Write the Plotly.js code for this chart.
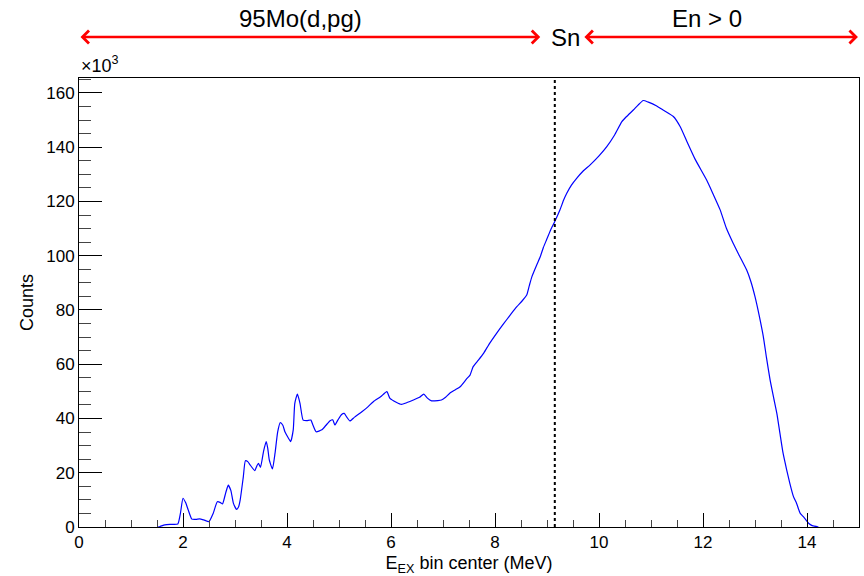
<!DOCTYPE html>
<html>
<head>
<meta charset="utf-8">
<script src="https://cdn.plot.ly/plotly-3.0.1.min.js"></script>
<style>html,body{margin:0;padding:0;background:#fff;}#chart{width:864px;height:576px;}</style>
</head>
<body>
<div id="chart"></div>
<script>
// Excitation energy bin centers (MeV)
const energyMeV = [1.52,1.56,1.65,1.75,1.90,1.95,2.00,2.05,2.10,2.17,2.25,2.32,2.40,2.50,2.58,2.66,2.72,2.76,2.82,2.87,2.92,2.97,3.03,3.07,3.10,3.16,3.20,3.25,3.29,3.38,3.42,3.45,3.49,3.55,3.60,3.63,3.66,3.72,3.77,3.82,3.87,3.92,3.96,4.02,4.07,4.12,4.15,4.20,4.25,4.31,4.38,4.46,4.50,4.56,4.67,4.75,4.83,4.88,4.92,4.98,5.05,5.10,5.15,5.21,5.30,5.44,5.55,5.66,5.80,5.92,5.98,6.10,6.20,6.30,6.43,6.55,6.63,6.70,6.78,6.90,6.97,7.05,7.13,7.23,7.33,7.45,7.52,7.58,7.68,7.78,7.90,8.03,8.12,8.22,8.32,8.42,8.52,8.61,8.66,8.71,8.80,8.87,8.93,8.99,9.07,9.15,9.25,9.32,9.38,9.47,9.57,9.70,9.83,10.00,10.15,10.30,10.44,10.53,10.66,10.75,10.85,10.95,11.11,11.25,11.43,11.56,11.69,11.85,12.07,12.20,12.33,12.45,12.58,12.70,12.84,12.92,13.00,13.08,13.16,13.22,13.29,13.36,13.42,13.48,13.54,13.61,13.67,13.74,13.80,13.87,13.93,14.03,14.10,14.22];
// Counts (in units of 10^3)
const countsK = [0,0.2,0.8,1.0,1.1,5.0,10.6,9.0,6.3,2.9,2.8,3.0,2.6,2.0,5.0,9.3,9.0,8.5,12.5,15.4,13.5,8.7,6.5,7.5,10.0,18.5,24.4,24.0,22.9,20.8,22.5,23.5,22.0,28.0,31.5,29.0,24.7,21.4,27.2,35.0,38.5,37.5,35.1,33.0,31.5,35.8,45.6,49.0,45.6,39.4,39.2,39.4,37.5,35.1,35.8,37.5,39.2,39.5,37.6,39.5,41.5,41.9,40.5,39.1,40.5,42.5,44.2,46.2,48.0,49.9,47.4,46.0,45.2,45.8,46.8,47.8,49.0,47.5,46.5,46.6,46.8,47.8,49.3,50.5,51.7,54.5,56.0,59.1,61.5,64.0,67.8,71.4,73.8,76.3,78.8,81.2,83.3,85.5,89.0,92.3,96.5,99.6,103.0,105.8,109.5,112.6,116.9,120.5,123.0,126.0,128.5,131.3,133.5,136.8,140.2,144.5,149.4,151.3,153.7,155.5,157.2,156.6,155.2,153.5,151.3,147.6,142.1,135.5,127.9,122.5,116.9,110.1,104.6,100.0,94.7,90.5,84.9,78.0,70.2,62.5,54.2,47.5,41.9,34.5,27.2,21.0,16.1,11.2,8.7,5.0,3.8,1.4,0.5,0];
// Neutron separation energy (MeV)
const snMeV = 9.15;
const regionLabels = ["95Mo(d,pg)", "Sn", "En > 0"];

const font = "Liberation Sans, Arial, Helvetica, sans-serif";

const trace = {
  x: energyMeV, y: countsK, type: "scatter", mode: "lines",
  line: {color: "#0000ff", width: 1.2, shape: "spline", smoothing: 0.5},
  hoverinfo: "skip", cliponaxis: true
};

const arrowY = 1.0913;   // paper units, above the frame
const labelY = 1.1336;
const layout = {
  width: 864, height: 576,
  margin: {l: 79, r: 5, t: 78, b: 49},
  paper_bgcolor: "#fff", plot_bgcolor: "#fff",
  showlegend: false,
  font: {family: font, color: "#000", size: 17},
  xaxis: {
    range: [0, 15], dtick: 2, tick0: 0,
    ticks: "inside", ticklen: 14, tickcolor: "#000", tickwidth: 1,
    minor: {dtick: 0.5, ticks: "inside", ticklen: 7, tickcolor: "#444"},
    showline: true, linecolor: "#000", linewidth: 1, mirror: true,
    showgrid: false, zeroline: false,
    tickfont: {size: 17, family: font},
    title: {text: "E<sub>EX</sub> bin center (MeV)", font: {size: 18, family: font}, standoff: 6}
  },
  yaxis: {
    range: [0, 165.5], dtick: 20, tick0: 0,
    ticks: "inside", ticklen: 23, tickcolor: "#000", tickwidth: 1,
    minor: {dtick: 5, ticks: "inside", ticklen: 12, tickcolor: "#444"},
    showline: true, linecolor: "#000", linewidth: 1, mirror: true,
    showgrid: false, zeroline: false,
    tickfont: {size: 17, family: font},
    title: {text: "Counts", font: {size: 18, family: font}}
  },
  shapes: [{
    type: "line", xref: "x", yref: "paper", x0: snMeV, x1: snMeV, y0: 0, y1: 1,
    line: {color: "#000", width: 2, dash: "dot"}
  }],
  annotations: [
    {xref: "paper", yref: "paper", x: 0, y: 1.0, xanchor: "left", yanchor: "bottom",
     text: "×10<sup>3</sup>", showarrow: false, font: {size: 18, family: font}},
    {xref: "x", yref: "paper", x: 8.87, y: arrowY, ax: 0, ay: 0, axref: "x", ayref: "pixel",
     text: "", showarrow: true, arrowside: "end+start", arrowhead: 4, startarrowhead: 4,
     arrowsize: 1, startarrowsize: 1, arrowwidth: 2.5, arrowcolor: "#ff0000"},
    {xref: "x", yref: "paper", x: 14.98, y: arrowY, ax: 9.69, ay: 0, axref: "x", ayref: "pixel",
     text: "", showarrow: true, arrowside: "end+start", arrowhead: 4, startarrowhead: 4,
     arrowsize: 1, startarrowsize: 1, arrowwidth: 2.5, arrowcolor: "#ff0000"},
    {xref: "x", yref: "paper", x: 4.25, y: labelY, xanchor: "center", yanchor: "middle",
     text: regionLabels[0], showarrow: false, font: {size: 24, family: font}},
    {xref: "x", yref: "paper", x: 9.35, y: arrowY, xanchor: "center", yanchor: "middle",
     text: regionLabels[1], showarrow: false, font: {size: 24, family: font}},
    {xref: "x", yref: "paper", x: 12.08, y: labelY, xanchor: "center", yanchor: "middle",
     text: regionLabels[2], showarrow: false, font: {size: 24, family: font}}
  ]
};

Plotly.newPlot("chart", [trace], layout, {displayModeBar: false, staticPlot: true});
</script>
</body>
</html>
